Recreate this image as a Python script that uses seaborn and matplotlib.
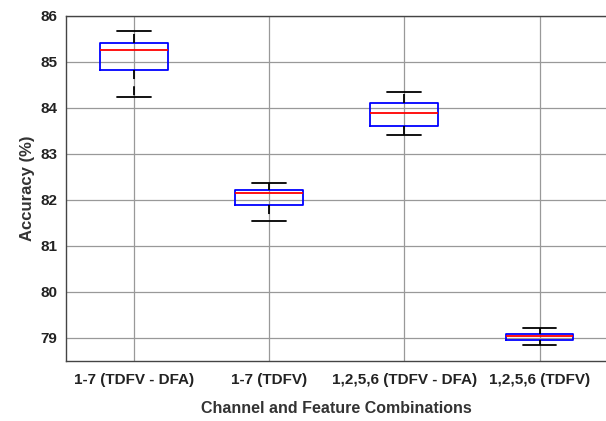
import numpy as np
import pandas as pd
import matplotlib
matplotlib.use("Agg")
import matplotlib.pyplot as plt
import seaborn as sns

# five-number summaries: low whisker, Q1, median, Q3, high whisker
combos = ["1-7 (TDFV - DFA)", "1-7 (TDFV)", "1,2,5,6 (TDFV - DFA)", "1,2,5,6 (TDFV)"]
whisk_lo = [84.23, 81.54, 83.42, 78.84]
q1 = [84.83, 81.89, 83.60, 78.95]
median = [85.26, 82.15, 83.90, 79.03]
q3 = [85.41, 82.21, 84.11, 79.09]
whisk_hi = [85.67, 82.36, 84.35, 79.21]

rows = []
for i, c in enumerate(combos):
    for v in [whisk_lo[i], q1[i], median[i], q3[i], whisk_hi[i]]:
        rows.append((c, v))
df = pd.DataFrame(rows, columns=["combo", "acc"])

sns.set_style("white")
plt.rcParams["font.family"] = ["Liberation Sans", "DejaVu Sans"]
plt.rcParams["font.weight"] = "bold"

fig = plt.figure(figsize=(6.06, 4.21), dpi=100)
ax = fig.add_axes([0.109, 0.143, 0.893, 0.819])

sns.boxplot(data=df, x="combo", y="acc", order=combos, whis=(0, 100), width=0.5,
            fill=False, linecolor="blue", linewidth=1.3, ax=ax,
            boxprops={"color": "blue"},
            medianprops={"color": "red"},
            whiskerprops={"color": "black", "linestyle": (0, (5, 4))},
            capprops={"color": "black"})

ax.set_ylim(78.5, 86)
ax.set_xlim(-0.5, 3.5)
ax.set_yticks(range(79, 87))
ax.grid(True, color="#999999", linewidth=0.9)
ax.set_axisbelow(True)
for s in ax.spines.values():
    s.set_color("#444444")
    s.set_linewidth(1.0)
ax.tick_params(direction="in", length=4, labelsize=11, colors="#222222")
ax.tick_params(axis="x", pad=9)
ax.tick_params(axis="y", pad=6)
for lab in ax.get_xticklabels() + ax.get_yticklabels():
    lab.set_fontweight("bold")
ax.set_xlabel("Channel and Feature Combinations", fontsize=11.5, fontweight="bold",
              color="#333333", labelpad=10)
ax.set_ylabel("Accuracy (%)", fontsize=12, fontweight="bold", color="#333333", labelpad=4)

fig.savefig("out.png", dpi=100)
